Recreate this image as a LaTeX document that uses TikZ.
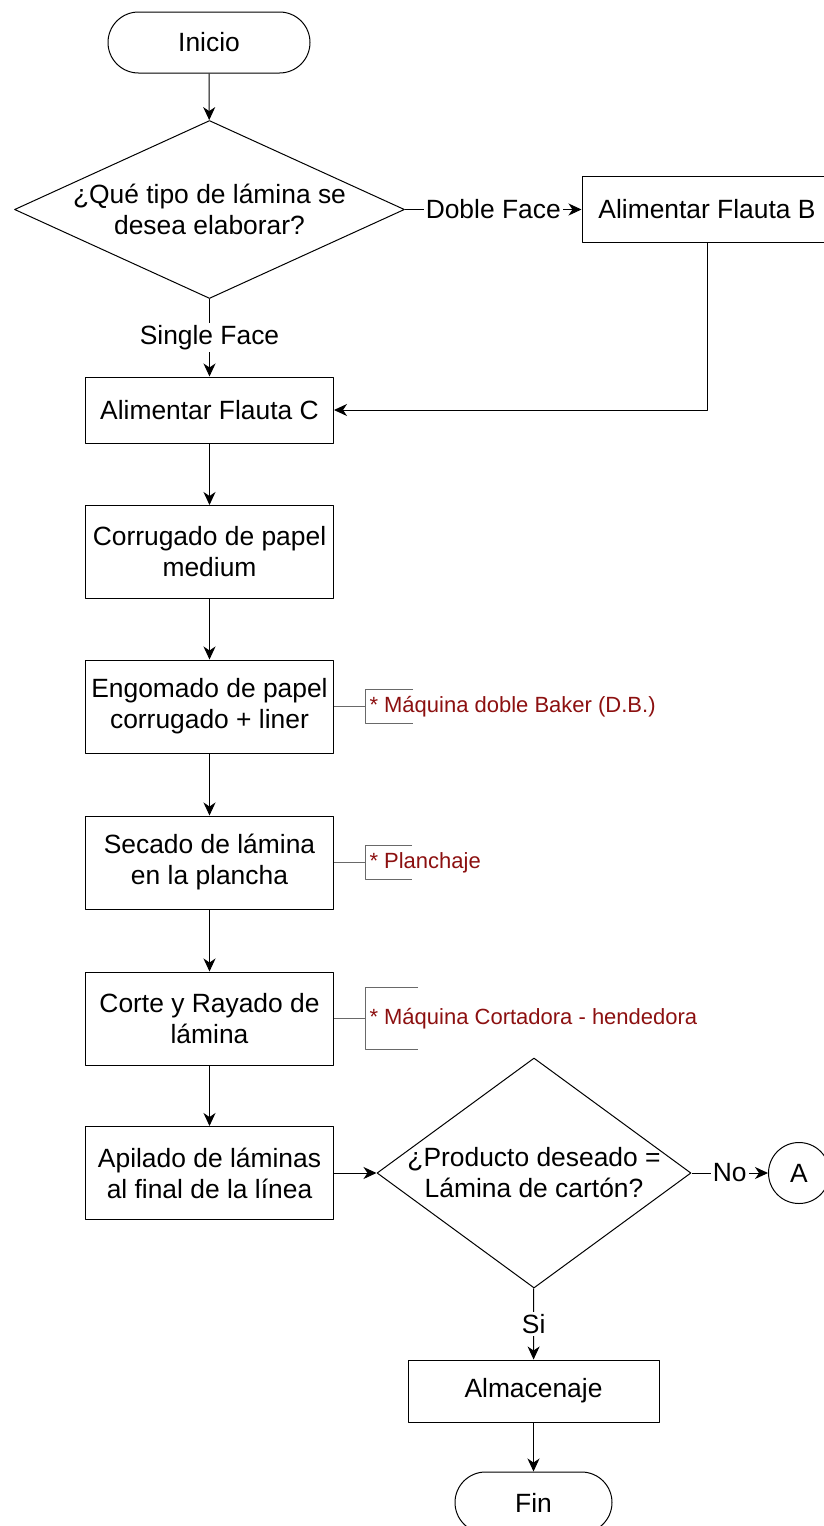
\documentclass[tikz,border=0pt]{standalone}
\usepackage{fontspec}
\setmainfont{Liberation Sans}
\usetikzlibrary{shapes.geometric,arrows.meta}
\definecolor{rojonota}{RGB}{140,16,16}
\definecolor{grisnota}{RGB}{105,105,105}
\begin{document}
\begin{tikzpicture}[join=round, >={Stealth[length=6.5pt,width=6pt,inset=2pt]}, x=0.5pt, y=-0.5pt, line width=0.5pt,
	texto/.style={font=\fontsize{13.2}{15.5}\selectfont},
	caja/.style={texto, draw, rectangle, align=center, minimum width=124pt, minimum height=46.5pt, inner sep=0pt},
	terminal/.style={texto, draw, rectangle, rounded corners=15.25pt, minimum height=30.5pt, inner sep=0pt},
	decision/.style={texto, draw, diamond, align=center, inner xsep=-6pt, inner ysep=0pt},
	conector/.style={texto, draw, circle, minimum size=30.5pt, inner sep=0pt},
	etiqueta/.style={texto, fill=white, inner sep=1pt},
	nota/.style={font=\fontsize{11}{13}\selectfont, text=rojonota, anchor=west, inner sep=0pt},
	corchete/.style={draw=grisnota}]
		\useasboundingbox (0,0) rectangle (824,1526);
		% nodos
		\node[terminal, minimum width=101pt] (inicio) at (209,42.5) {Inicio};
		\node[decision, aspect=2.2, minimum width=195pt, minimum height=89pt] (tipo) at (209.5,209.5) {¿Qué tipo de lámina se\\desea elaborar?};
		\node[caja, minimum width=125pt, minimum height=33pt] (flautab) at (707,209.5) {Alimentar Flauta B};
		\node[caja, minimum height=33pt] (flautac) at (209.5,410) {Alimentar Flauta C};
		\node[caja] (corrugado) at (209.5,552) {Corrugado de papel\\medium};
		\node[caja] (engomado) at (209.5,706.5) {Engomado de papel\\corrugado + liner};
		\node[caja] (secado) at (209.5,862.5) {Secado de lámina\\en la plancha};
		\node[caja] (corte) at (209.5,1018.5) {Corte y Rayado de\\lámina};
		\node[caja] (apilado) at (209.5,1173) {Apilado de láminas\\al final de la línea};
		\node[decision, aspect=1.4, minimum width=157pt, minimum height=115pt] (producto) at (534,1173) {¿Producto deseado =\\Lámina de cartón?};
		\node[conector] (conA) at (799,1173) {A};
		\node[caja, minimum width=125.5pt, minimum height=31pt] (almacenaje) at (533.5,1391) {Almacenaje};
		\node[terminal, minimum width=78.5pt] (fin) at (533.5,1502.5) {Fin};
		% flechas
		\draw[->] (inicio) -- (tipo);
		\draw[->] (tipo) -- node[etiqueta]{Doble Face} (flautab);
		\draw[->] (tipo) -- node[etiqueta]{Single Face} (flautac);
		\draw[->] (flautab.south) |- (flautac.east);
		\foreach \de/\a in {flautac/corrugado, corrugado/engomado, engomado/secado, secado/corte, corte/apilado}
		\draw[->] (\de) -- (\a);
		\draw[->] (apilado) -- (producto);
		\draw[->] (producto) -- node[etiqueta]{No} (conA);
		\draw[->] (producto) -- node[etiqueta]{Si} (almacenaje);
		\draw[->] (almacenaje) -- (fin);
		% notas
		\foreach \caja/\alto/\largo/\notatxt in {engomado/17/48/{* Máquina doble Baker (D.B.)}, secado/17/47/{* Planchaje}, corte/31/53/{* Máquina Cortadora - hendedora}}
		{
			\draw[corchete] (\caja.east) -- ++(31,0) coordinate (nota\caja);
			\draw[corchete] ([shift={(\largo,-\alto)}]nota\caja) -- ++(-\largo,0) -- ++(0,2*\alto) -- ++(\largo,0);
			\node[nota] (txt\caja) at ([xshift=2pt]nota\caja) {\notatxt};
		}
	\end{tikzpicture}
\end{document}
